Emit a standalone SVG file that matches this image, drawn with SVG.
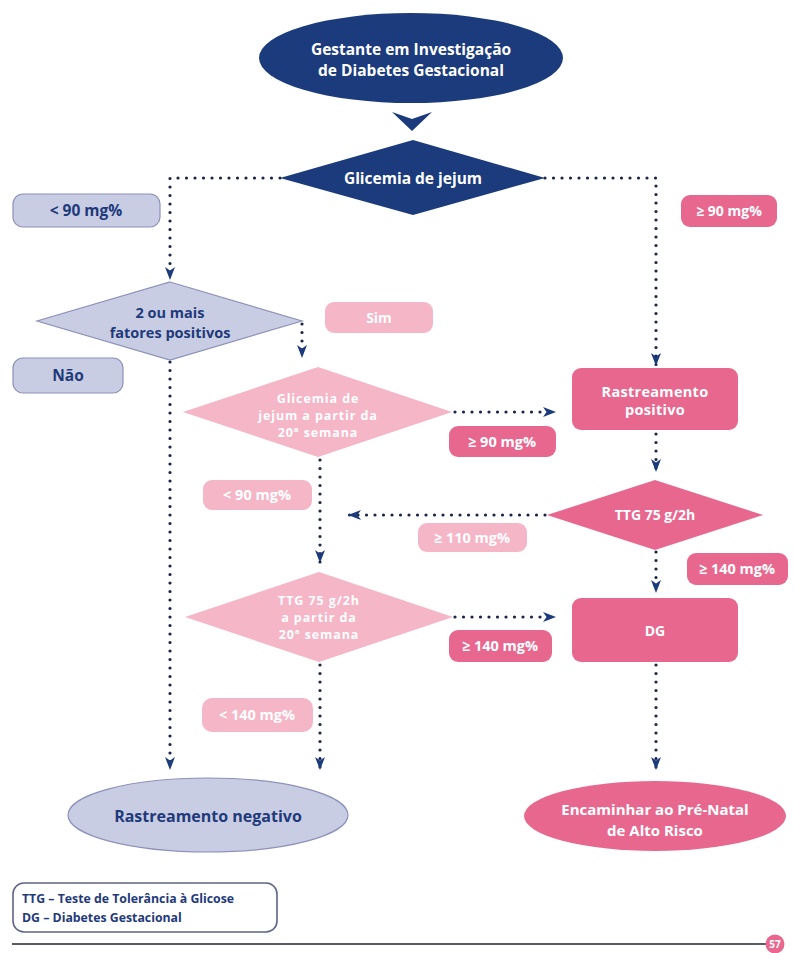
<svg xmlns="http://www.w3.org/2000/svg" width="794" height="953" viewBox="0 0 794 953">
<defs>
<marker id="arr" markerUnits="userSpaceOnUse" markerWidth="14" markerHeight="12" refX="13" refY="5" orient="auto">
<path d="M0,0 L13,5 L0,10 L3.5,5 Z" fill="#1b3b7c"/>
</marker>
<style>
.t{font-family:"Open Sans","Noto Sans","Liberation Sans",sans-serif;font-weight:700;text-anchor:middle}
.nv{fill:#1f3a7a}
.wh{fill:#ffffff}
.dot{fill:none;stroke:#1a2547;stroke-width:3.2;stroke-linecap:round;stroke-dasharray:0 8.5}
.lav{fill:#c9cde4;stroke:#8c92b8;stroke-width:1.2}
.pk{fill:#e8678f}
.lpk{fill:#f5b6c7}
.navy{fill:#1b3b7c}
.dm{font-size:12.5px;letter-spacing:0.9px}
</style>
</defs>
<rect width="794" height="953" fill="#ffffff"/>

<g id="connectors">
<path d="M392,112 L412,119 L432,112 L412,131 Z" class="navy"/>
<path class="dot" d="M280,178 H170 V280" marker-end="url(#arr)"/>
<path class="dot" d="M545,178 H656 V366" marker-end="url(#arr)"/>
<path class="dot" d="M302,324 V358" marker-end="url(#arr)"/>
<path class="dot" d="M170,362 V770" marker-end="url(#arr)"/>
<path class="dot" d="M455,412 H556" marker-end="url(#arr)"/>
<path class="dot" d="M320,460 V563" marker-end="url(#arr)"/>
<path class="dot" d="M656,434 V472" marker-end="url(#arr)"/>
<path class="dot" d="M545,515 H348" marker-end="url(#arr)"/>
<path class="dot" d="M656,552 V593" marker-end="url(#arr)"/>
<path class="dot" d="M455,617 H556" marker-end="url(#arr)"/>
<path class="dot" d="M320,665 V770" marker-end="url(#arr)"/>
<path class="dot" d="M656,665 V770" marker-end="url(#arr)"/>
</g>

<g id="n-start">
<ellipse cx="411" cy="58" rx="152" ry="45" class="navy"/>
<text class="t wh" x="411" y="55" font-size="15.5">Gestante em Investigação</text>
<text class="t wh" x="411" y="76" font-size="15.5">de Diabetes Gestacional</text>
</g>

<g id="n-glicemia">
<polygon points="413,140 545,178 413,215 280,178" class="navy"/>
<text class="t wh" x="413" y="184" font-size="15.5">Glicemia de jejum</text>
</g>

<g id="l-lt90">
<rect x="13" y="194" width="147" height="33" rx="10" class="lav"/>
<text class="t nv" x="86" y="216" font-size="15.5">&lt; 90 mg%</text>
</g>

<g id="l-ge90a">
<rect x="681" y="195" width="96" height="32" rx="9" class="pk"/>
<text class="t wh" x="729" y="216" font-size="14">≥ 90 mg%</text>
</g>

<g id="n-fatores">
<polygon points="170,282 302,321 170,360 37,321" class="lav"/>
<text class="t nv" x="170" y="318" font-size="14.5">2 ou mais</text>
<text class="t nv" x="170" y="338" font-size="14.5">fatores positivos</text>
</g>

<g id="l-sim">
<rect x="325" y="302" width="108" height="31" rx="9" class="lpk"/>
<text class="t wh" x="379" y="323" font-size="14">Sim</text>
</g>

<g id="l-nao">
<rect x="13" y="358" width="110" height="35" rx="10" class="lav"/>
<text class="t nv" x="68" y="381" font-size="15.5">Não</text>
</g>

<g id="n-glic20">
<polygon points="318,367 452,412 318,457 183,412" class="lpk"/>
<text class="t wh dm" x="318" y="403">Glicemia de</text>
<text class="t wh dm" x="318" y="420">jejum a partir da</text>
<text class="t wh dm" x="318" y="437">20ª semana</text>
</g>

<g id="n-rastpos">
<rect x="572" y="368" width="166" height="62" rx="9" class="pk"/>
<text class="t wh" x="655" y="397" font-size="14.5" letter-spacing="0.3">Rastreamento</text>
<text class="t wh" x="655" y="415" font-size="14.5" letter-spacing="0.3">positivo</text>
</g>

<g id="l-ge90b">
<rect x="449" y="426" width="107" height="31" rx="9" class="pk"/>
<text class="t wh" x="502" y="447" font-size="14.5">≥ 90 mg%</text>
</g>

<g id="l-lt90b">
<rect x="203" y="480" width="109" height="30" rx="9" class="lpk"/>
<text class="t wh" x="257" y="500" font-size="14.5">&lt; 90 mg%</text>
</g>

<g id="n-ttg">
<polygon points="655,480 763,515 655,550 547,515" class="pk"/>
<text class="t wh" x="655" y="520" font-size="14">TTG 75 g/2h</text>
</g>

<g id="l-ge110">
<rect x="418" y="523" width="109" height="29" rx="9" class="lpk"/>
<text class="t wh" x="472" y="543" font-size="14.5">≥ 110 mg%</text>
</g>

<g id="l-ge140a">
<rect x="687" y="553" width="101" height="32" rx="9" class="pk"/>
<text class="t wh" x="737" y="574" font-size="14.5">≥ 140 mg%</text>
</g>

<g id="n-ttg20">
<polygon points="319,572 453,617 319,662 185,617" class="lpk"/>
<text class="t wh dm" x="319" y="605">TTG 75 g/2h</text>
<text class="t wh dm" x="319" y="622">a partir da</text>
<text class="t wh dm" x="319" y="639">20ª semana</text>
</g>

<g id="n-dg">
<rect x="572" y="598" width="166" height="64" rx="9" class="pk"/>
<text class="t wh" x="655" y="636" font-size="14">DG</text>
</g>

<g id="l-ge140b">
<rect x="449" y="630" width="103" height="32" rx="9" class="pk"/>
<text class="t wh" x="500" y="651" font-size="14.5">≥ 140 mg%</text>
</g>

<g id="l-lt140">
<rect x="202" y="698" width="111" height="34" rx="10" class="lpk"/>
<text class="t wh" x="257" y="720" font-size="14.5">&lt; 140 mg%</text>
</g>

<g id="n-rastneg">
<ellipse cx="208" cy="815" rx="140" ry="37" class="lav"/>
<text class="t nv" x="208" y="822" font-size="16">Rastreamento negativo</text>
</g>

<g id="n-encaminhar">
<ellipse cx="655" cy="816" rx="131" ry="35" class="pk"/>
<text class="t wh" x="655" y="815" font-size="15">Encaminhar ao Pré-Natal</text>
<text class="t wh" x="655" y="836" font-size="15">de Alto Risco</text>
</g>

<g id="legend">
<rect x="13" y="883" width="264" height="49" rx="11" fill="#ffffff" stroke="#5d6488" stroke-width="1.6"/>
<text class="t nv" x="22" y="903" font-size="12.3" style="text-anchor:start">TTG – Teste de Tolerância à Glicose</text>
<text class="t nv" x="22" y="922" font-size="12.3" style="text-anchor:start">DG – Diabetes Gestacional</text>
</g>

<g id="footer">
<line x1="12" y1="944" x2="768" y2="944" stroke="#5a5a66" stroke-width="2"/>
<circle cx="775" cy="944" r="9.5" class="pk"/>
<text class="t wh" x="775" y="948" font-size="10">57</text>
</g>
</svg>
